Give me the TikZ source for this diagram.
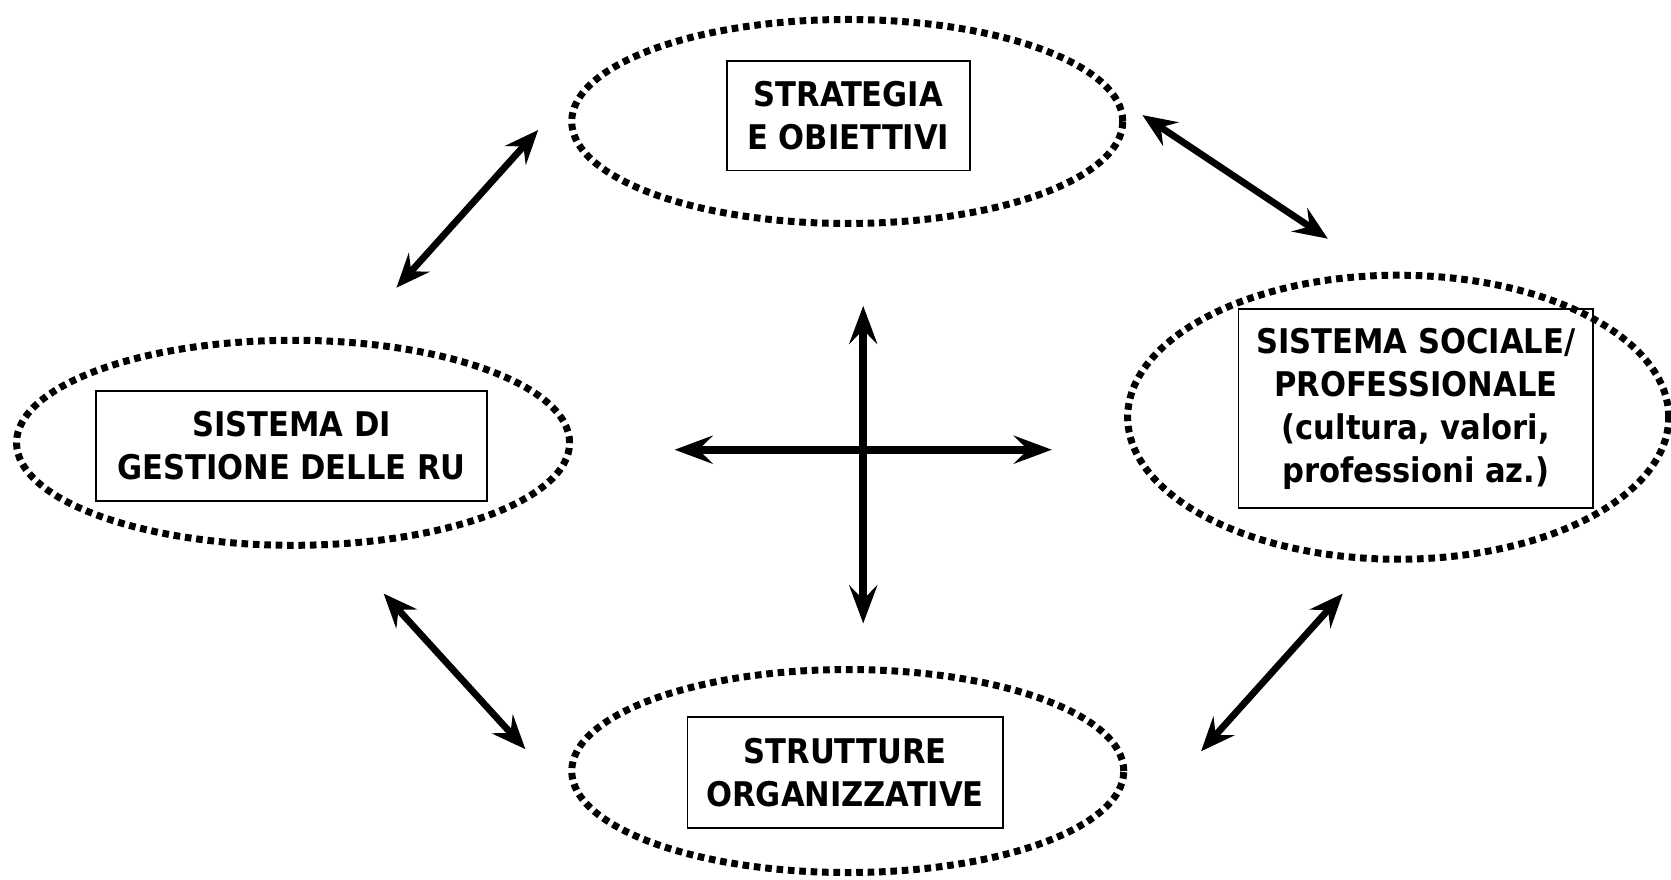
\documentclass[tikz,border=0pt]{standalone}
\usepackage{fontspec}
\setmainfont{DejaVu Sans Condensed}
\usetikzlibrary{shapes.geometric,arrows.meta}
\tikzset{
  oval/.style={ellipse,draw,line width=3.5pt,dash pattern=on 3.3pt off 2.4pt,inner sep=0pt},
  labelbox/.style={draw,line width=0.8pt,inner sep=0pt,align=center,font=\fontsize{17}{21.5}\selectfont\bfseries},
  dbl/.style={line width=3.4pt,{Stealth[length=17pt,width=14pt,inset=6pt]}-{Stealth[length=17pt,width=14pt,inset=6pt]}},
  crossarr/.style={line width=3.8pt,{Stealth[length=19pt,width=14pt,inset=7pt]}-{Stealth[length=19pt,width=14pt,inset=7pt]}}
}
\begin{document}
\begin{tikzpicture}[x=0.5328pt,y=-0.5328pt]
\useasboundingbox (0,0) rectangle (1568,825);
% ellipses
\node[oval,minimum width=275.5pt,minimum height=102pt] (eTop) at (795,114) {};
\node[oval,minimum width=270.5pt,minimum height=142pt] (eRight) at (1312,391.5) {};
\node[oval,minimum width=276.5pt,minimum height=102.5pt] (eLeft) at (275,415.5) {};
\node[oval,minimum width=276pt,minimum height=101.5pt] (eBot) at (795.5,723.5) {};
% boxes
\node[labelbox,minimum width=121.5pt,minimum height=54.9pt] (bTop) at (796,108.5) {STRATEGIA\\E OBIETTIVI};
\node[labelbox,minimum width=177.4pt,minimum height=99.6pt] (bRight) at (1328.5,383.5) {SISTEMA SOCIALE/\\PROFESSIONALE\\(cultura, valori,\\professioni az.)};
\node[labelbox,minimum width=195.5pt,minimum height=54.9pt] (bLeft) at (273.5,418.5) {SISTEMA DI\\GESTIONE DELLE RU};
\node[labelbox,minimum width=157.7pt,minimum height=55.4pt] (bBot) at (793,725) {STRUTTURE\\ORGANIZZATIVE};
% arrow end points
\coordinate (tlA) at (372,270); \coordinate (tlB) at (505,122);
\coordinate (trA) at (1072,108); \coordinate (trB) at (1246,224);
\coordinate (blA) at (360,557); \coordinate (blB) at (493,703);
\coordinate (brA) at (1260,557); \coordinate (brB) at (1127,705);
\coordinate (cUp) at (810,287); \coordinate (cDown) at (810,585);
\coordinate (cLeft) at (633,422); \coordinate (cRight) at (987,422);
\draw[dbl] (tlA) -- (tlB);
\draw[dbl] (trA) -- (trB);
\draw[dbl] (blA) -- (blB);
\draw[dbl] (brA) -- (brB);
\draw[crossarr] (cUp) -- (cDown);
\draw[crossarr] (cLeft) -- (cRight);
\end{tikzpicture}
\end{document}
